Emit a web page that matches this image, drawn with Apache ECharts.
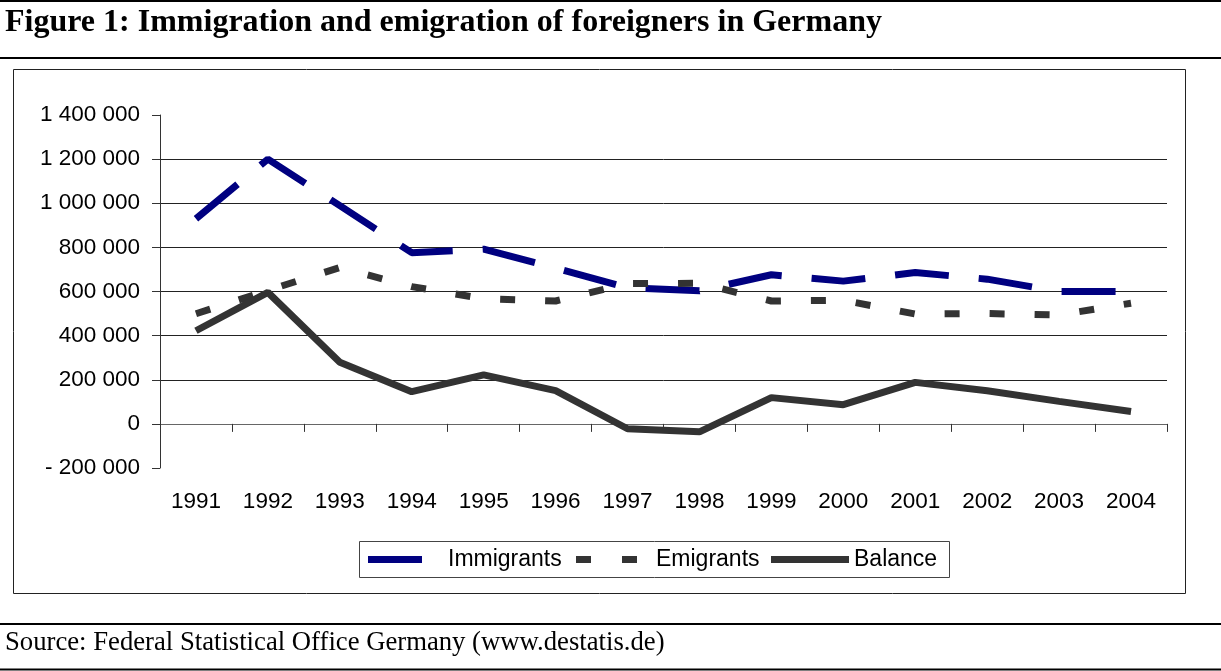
<!DOCTYPE html>
<html>
<head>
<meta charset="utf-8">
<title>Immigration and emigration of foreigners in Germany</title>
<script src="https://cdn.jsdelivr.net/npm/echarts@6/dist/echarts.min.js"></script>
<style>
  html, body { margin: 0; padding: 0; background: #ffffff; }
  #chart { width: 1221px; height: 671px; }
</style>
</head>
<body>
<div id="chart"></div>
<script>
// Annual flows of foreigners across German borders, persons per year
const years = ['1991', '1992', '1993', '1994', '1995', '1996', '1997',
               '1998', '1999', '2000', '2001', '2002', '2003', '2004'];
const immigrants = [930000, 1200000, 989000, 776000, 792000, 706000, 617000,
                    603000, 676000, 647000, 686000, 656000, 600000, 600000];
const emigrants = [499000, 605000, 709000, 622000, 567000, 557000, 636000,
                   637000, 557000, 560000, 498000, 500000, 494000, 547000];
const balance = [422000, 596000, 279000, 146000, 222000, 151000, -22000,
                 -36000, 119000, 87000, 188000, 150000, 102000, 56000];

const yMin = -200000, yMax = 1400000, yStep = 200000;

const titleText = 'Figure 1: Immigration and emigration of foreigners in Germany';
const sourceText = 'Source: Federal Statistical Office Germany (www.destatis.de)';

const SANS = '"Liberation Sans", Arial, sans-serif';
const SERIF = '"Liberation Serif", "Times New Roman", serif';
const NAVY = '#000080';
const DARK = '#333333';

// "1 400 000", "0", "- 200 000"
function fmtThousands(v) {
  if (v === 0) return '0';
  const s = String(Math.abs(v)).replace(/\B(?=(\d{3})+(?!\d))/g, ' ');
  return (v < 0 ? '- ' : '') + s;
}

const chart = echarts.init(document.getElementById('chart'), null, { renderer: 'canvas' });

// one legend per series so each key sample can have its own length
function legendFor(name, left, width, pad, icon) {
  return {
    data: [name],
    left: left,
    top: 548,
    padding: 0,
    itemWidth: width,
    itemHeight: 7,
    icon: icon,
    selectedMode: false,
    textStyle: { fontFamily: SANS, fontSize: 23, color: '#000', padding: [0, 0, 0, pad] }
  };
}

chart.setOption({
  animation: false,
  backgroundColor: '#ffffff',
  grid: { left: 160, right: 54, top: 115, bottom: 203, containLabel: false },
  legend: [
    legendFor('Immigrants', 368, 54, 21, 'rect'),
    legendFor('Emigrants', 576, 61, 14, 'path://M0,0h15v7h-15zM46,0h15v7h-15z'),
    legendFor('Balance', 771, 78, 0, 'rect')
  ],
  xAxis: [
    {
      // axis line crossing at zero, with boundary ticks
      type: 'category',
      data: years,
      boundaryGap: true,
      axisLine: { show: true, onZero: true, lineStyle: { color: '#666', width: 1 } },
      axisTick: { show: true, length: 8, inside: false, lineStyle: { color: '#333' } },
      axisLabel: { show: false },
      splitLine: { show: false }
    },
    {
      // year labels along the bottom of the plot
      type: 'category',
      data: years,
      position: 'bottom',
      boundaryGap: true,
      axisLine: { show: false, onZero: false },
      axisTick: { show: false },
      axisLabel: { show: true, margin: 22, fontFamily: SANS, fontSize: 22.5, color: '#000' },
      splitLine: { show: false }
    }
  ],
  yAxis: {
    type: 'value',
    min: yMin,
    max: yMax,
    interval: yStep,
    axisLine: { show: true, lineStyle: { color: '#333', width: 1 } },
    axisTick: { show: true, length: 8, lineStyle: { color: '#333' } },
    axisLabel: { margin: 20, fontFamily: SANS, fontSize: 22.5, color: '#000', formatter: fmtThousands },
    splitLine: { show: true, showMinLine: false, showMaxLine: false, lineStyle: { color: '#222', width: 1 } }
  },
  series: [
    {
      name: 'Immigrants',
      type: 'line',
      data: immigrants,
      symbol: 'none',
      itemStyle: { color: NAVY },
      lineStyle: { color: NAVY, width: 7, type: [54, 30], cap: 'butt' },
      z: 3
    },
    {
      name: 'Emigrants',
      type: 'line',
      data: emigrants,
      symbol: 'none',
      itemStyle: { color: DARK },
      lineStyle: { color: DARK, width: 7, type: [15, 30], cap: 'butt' },
      z: 3
    },
    {
      name: 'Balance',
      type: 'line',
      data: balance,
      symbol: 'none',
      itemStyle: { color: DARK },
      lineStyle: { color: DARK, width: 7, type: 'solid' },
      z: 4
    }
  ],
  graphic: [
    // page rules above and below the heading and the source note
    { type: 'line', shape: { x1: 0, y1: 1, x2: 1221, y2: 1 }, style: { stroke: '#000', lineWidth: 2 } },
    { type: 'line', shape: { x1: 0, y1: 58, x2: 1221, y2: 58 }, style: { stroke: '#000', lineWidth: 2 } },
    { type: 'line', shape: { x1: 0, y1: 624, x2: 1221, y2: 624 }, style: { stroke: '#000', lineWidth: 2 } },
    { type: 'line', shape: { x1: 0, y1: 669.5, x2: 1221, y2: 669.5 }, style: { stroke: '#000', lineWidth: 2 } },
    // frame around the chart
    { type: 'rect', shape: { x: 13.5, y: 69.5, width: 1172, height: 524 },
      style: { fill: null, stroke: '#222', lineWidth: 1 }, z: -1 },
    // frame around the legend
    { type: 'rect', shape: { x: 359.5, y: 541.5, width: 590, height: 36 },
      style: { fill: null, stroke: '#444', lineWidth: 1 }, z: -1 },
    { type: 'text', x: 5, y: 22.5,
      style: { text: titleText, font: 'bold 32px ' + SERIF, fill: '#000', verticalAlign: 'middle' } },
    { type: 'text', x: 5, y: 643,
      style: { text: sourceText, font: '26.7px ' + SERIF, fill: '#000', verticalAlign: 'middle' } }
  ]
});
</script>
</body>
</html>
